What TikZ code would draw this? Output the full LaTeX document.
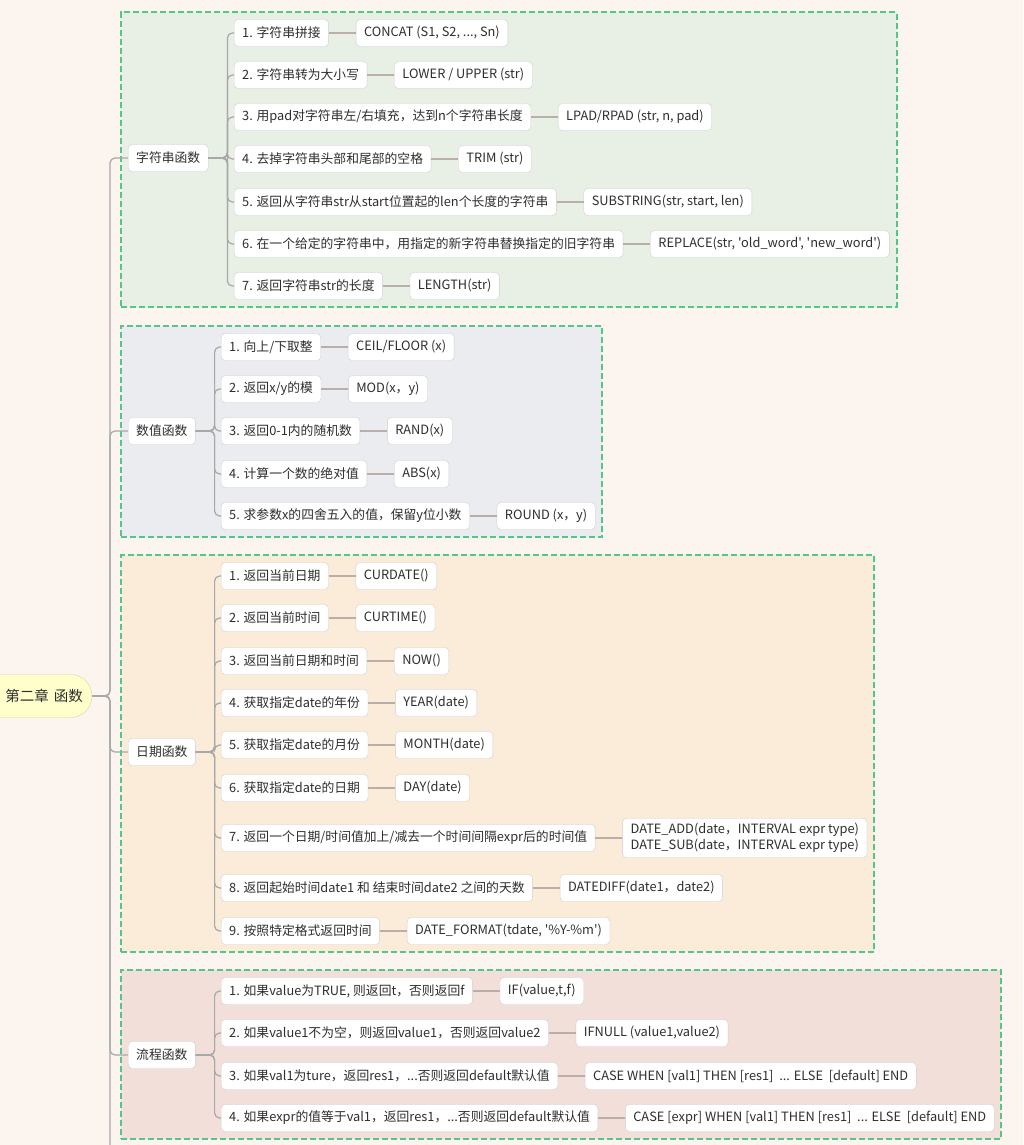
\documentclass[tikz,border=0pt]{standalone}
\usepackage{fontspec}
\setmainfont{Noto Sans CJK SC}[Ligatures=TeXOff]
\usetikzlibrary{positioning,fit,backgrounds}
\definecolor{pagebg}{HTML}{FBF4EF}
\definecolor{txtgray}{HTML}{2E2E2E}
\definecolor{boxline}{HTML}{CFCFCF}
\definecolor{lnkgray}{HTML}{A8A8A8}
\definecolor{lnkbrown}{HTML}{B9AEA8}
\definecolor{dashgreen}{HTML}{52C78A}
\definecolor{rootfill}{HTML}{FFFFCC}
\definecolor{rootline}{HTML}{D8D4A8}
\definecolor{grpstr}{HTML}{E8EFE5}
\definecolor{grpnum}{HTML}{EBECF0}
\definecolor{grpdate}{HTML}{FBEBD9}
\definecolor{grpflow}{HTML}{F3DFDA}

\begin{document}
\begin{tikzpicture}[x=1pt,y=-1pt,
    every node/.style={font=\fontsize{12.8}{16}\selectfont,text=txtgray},
    rootnode/.style={draw=rootline,fill=rootfill,rounded corners=21pt,minimum height=43pt,
      text width=105pt,align=right,inner xsep=9pt,anchor=east,font=\fontsize{14.5}{17}\selectfont},
    cat/.style={draw=boxline,fill=white,rounded corners=4pt,minimum height=27pt,inner xsep=8pt,anchor=west},
    item/.style={draw=boxline,fill=white,rounded corners=4pt,minimum height=27pt,inner xsep=8pt,anchor=west},
    func/.style={draw=boxline,fill=white,rounded corners=4pt,minimum height=27pt,inner xsep=8pt,align=left},
    trunk/.style={draw=lnkgray,line width=1.2pt,rounded corners=5pt},
    twig/.style={draw=lnkgray,line width=1.2pt,rounded corners=5pt},
    leafln/.style={draw=lnkbrown,line width=1.2pt},
    grp/.style={draw=dashgreen,line width=2pt,dash pattern=on 6pt off 3pt,inner sep=7pt}]
  \clip (0,0) rectangle (1023,1145);

  % root
  \node[rootnode] (root) at (92,696) {第二章 函数};
  \coordinate (tail) at (110,1170);

  % string functions
  \node[cat] (str) at (128,158) {字符串函数};
  \node[item] (str1) at (234,33) {1. 字符串拼接};
  \node[item] (str2) at (234,75) {2. 字符串转为大小写};
  \node[item] (str3) at (234,117) {3. 用pad对字符串左/右填充，达到n个字符串长度};
  \node[item] (str4) at (234,159) {4. 去掉字符串头部和尾部的空格};
  \node[item] (str5) at (234,202) {5. 返回从字符串str从start位置起的len个长度的字符串};
  \node[item] (str6) at (234,244) {6. 在一个给定的字符串中，用指定的新字符串替换指定的旧字符串};
  \node[item] (str7) at (234,286) {7. 返回字符串str的长度};
  \node[func,right=27pt of str1] (strf1) {CONCAT (S1, S2, ..., Sn)};
  \node[func,right=27pt of str2] (strf2) {LOWER / UPPER (str)};
  \node[func,right=27pt of str3] (strf3) {LPAD/RPAD (str, n, pad)};
  \node[func,right=27pt of str4] (strf4) {TRIM (str)};
  \node[func,right=27pt of str5] (strf5) {SUBSTRING(str, start, len)};
  \node[func,right=27pt of str6] (strf6) {REPLACE(str, 'old\_word', 'new\_word')};
  \node[func,right=27pt of str7] (strf7) {LENGTH(str)};

  % numeric functions
  \node[cat] (num) at (128,431) {数值函数};
  \node[item] (num1) at (221,347) {1. 向上/下取整};
  \node[item] (num2) at (221,389) {2. 返回x/y的模};
  \node[item] (num3) at (221,431) {3. 返回0-1内的随机数};
  \node[item] (num4) at (221,474) {4. 计算一个数的绝对值};
  \node[item] (num5) at (221,516) {5. 求参数x的四舍五入的值，保留y位小数};
  \node[func,right=27pt of num1] (numf1) {CEIL/FLOOR (x)};
  \node[func,right=27pt of num2] (numf2) {MOD(x，y)};
  \node[func,right=27pt of num3] (numf3) {RAND(x)};
  \node[func,right=27pt of num4] (numf4) {ABS(x)};
  \node[func,right=27pt of num5] (numf5) {ROUND (x，y)};

  % date functions
  \node[cat] (dat) at (128,752) {日期函数};
  \node[item] (dat1) at (221,576) {1. 返回当前日期};
  \node[item] (dat2) at (221,618) {2. 返回当前时间};
  \node[item] (dat3) at (221,661) {3. 返回当前日期和时间};
  \node[item] (dat4) at (221,703) {4. 获取指定date的年份};
  \node[item] (dat5) at (221,745) {5. 获取指定date的月份};
  \node[item] (dat6) at (221,788) {6. 获取指定date的日期};
  \node[item] (dat7) at (221,838) {7. 返回一个日期/时间值加上/减去一个时间间隔expr后的时间值};
  \node[item] (dat8) at (221,888) {8. 返回起始时间date1 和 结束时间date2 之间的天数};
  \node[item] (dat9) at (221,931) {9. 按照特定格式返回时间};
  \node[func,right=27pt of dat1] (datf1) {CURDATE()};
  \node[func,right=27pt of dat2] (datf2) {CURTIME()};
  \node[func,right=27pt of dat3] (datf3) {NOW()};
  \node[func,right=27pt of dat4] (datf4) {YEAR(date)};
  \node[func,right=27pt of dat5] (datf5) {MONTH(date)};
  \node[func,right=27pt of dat6] (datf6) {DAY(date)};
  \node[func,right=27pt of dat7,inner ysep=5pt] (datf7) {DATE\_ADD(date，INTERVAL expr type)\\DATE\_SUB(date，INTERVAL expr type)};
  \node[func,right=27pt of dat8] (datf8) {DATEDIFF(date1，date2)};
  \node[func,right=27pt of dat9] (datf9) {DATE\_FORMAT(tdate, '\%Y-\%m')};

  % flow functions
  \node[cat] (flw) at (128,1055) {流程函数};
  \node[item] (flw1) at (221,991) {1. 如果value为TRUE, 则返回t，否则返回f};
  \node[item] (flw2) at (221,1033) {2. 如果value1不为空，则返回value1，否则返回value2};
  \node[item] (flw3) at (221,1076) {3. 如果val1为ture，返回res1，...否则返回default默认值};
  \node[item] (flw4) at (221,1118) {4. 如果expr的值等于val1，返回res1，...否则返回default默认值};
  \node[func,right=27pt of flw1] (flwf1) {IF(value,t,f)};
  \node[func,right=27pt of flw2] (flwf2) {IFNULL (value1,value2)};
  \node[func,right=27pt of flw3] (flwf3) {CASE WHEN [val1] THEN [res1]\ \ ... ELSE\ \ [default] END};
  \node[func,right=27pt of flw4] (flwf4) {CASE [expr] WHEN [val1] THEN [res1]\ \ ... ELSE\ \ [default] END};

  % dashed groups
  \begin{scope}[on background layer]
    \fill[pagebg] (0,0) rectangle (1023,1145);
    \node[grp,fill=grpstr,fit=(str)(str1)(str7)(strf1)(strf2)(strf3)(strf4)(strf5)(strf6)(strf7)] (gstr) {};
    \node[grp,fill=grpnum,fit=(num)(num1)(num5)(numf1)(numf2)(numf3)(numf4)(numf5)] (gnum) {};
    \node[grp,fill=grpdate,fit=(dat)(dat1)(dat9)(datf1)(datf3)(datf7)(datf8)(datf9)] (gdat) {};
    \node[grp,fill=grpflow,fit=(flw)(flw1)(flw4)(flwf1)(flwf2)(flwf3)(flwf4)] (gflw) {};
  \end{scope}

  % trunk
  \draw[trunk] (root.east) -- ++(18,0) |- (str.west);
  \draw[trunk] (root.east) -- ++(18,0) |- (num.west);
  \draw[trunk] (root.east) -- ++(18,0) |- (dat.west);
  \draw[trunk] (root.east) -- ++(18,0) |- (flw.west);
  \draw[trunk] (root.east) -- ++(18,0) -- (tail);

  % branches
  \draw[twig] (str.east) -- ++(19,0) |- (str1.west); \draw[twig] (str.east) -- ++(19,0) |- (str2.west);
  \draw[twig] (str.east) -- ++(19,0) |- (str3.west); \draw[twig] (str.east) -- ++(19,0) |- (str4.west);
  \draw[twig] (str.east) -- ++(19,0) |- (str5.west); \draw[twig] (str.east) -- ++(19,0) |- (str6.west);
  \draw[twig] (str.east) -- ++(19,0) |- (str7.west);
  \draw[twig] (num.east) -- ++(19,0) |- (num1.west); \draw[twig] (num.east) -- ++(19,0) |- (num2.west);
  \draw[twig] (num.east) -- ++(19,0) |- (num3.west); \draw[twig] (num.east) -- ++(19,0) |- (num4.west);
  \draw[twig] (num.east) -- ++(19,0) |- (num5.west);
  \draw[twig] (dat.east) -- ++(19,0) |- (dat1.west); \draw[twig] (dat.east) -- ++(19,0) |- (dat2.west);
  \draw[twig] (dat.east) -- ++(19,0) |- (dat3.west); \draw[twig] (dat.east) -- ++(19,0) |- (dat4.west);
  \draw[twig] (dat.east) -- ++(19,0) |- (dat5.west); \draw[twig] (dat.east) -- ++(19,0) |- (dat6.west);
  \draw[twig] (dat.east) -- ++(19,0) |- (dat7.west); \draw[twig] (dat.east) -- ++(19,0) |- (dat8.west);
  \draw[twig] (dat.east) -- ++(19,0) |- (dat9.west);
  \draw[twig] (flw.east) -- ++(19,0) |- (flw1.west); \draw[twig] (flw.east) -- ++(19,0) |- (flw2.west);
  \draw[twig] (flw.east) -- ++(19,0) |- (flw3.west); \draw[twig] (flw.east) -- ++(19,0) |- (flw4.west);

  % leaves
  \draw[leafln] (str1) -- (strf1); \draw[leafln] (str2) -- (strf2); \draw[leafln] (str3) -- (strf3);
  \draw[leafln] (str4) -- (strf4); \draw[leafln] (str5) -- (strf5); \draw[leafln] (str6) -- (strf6);
  \draw[leafln] (str7) -- (strf7);
  \draw[leafln] (num1) -- (numf1); \draw[leafln] (num2) -- (numf2); \draw[leafln] (num3) -- (numf3);
  \draw[leafln] (num4) -- (numf4); \draw[leafln] (num5) -- (numf5);
  \draw[leafln] (dat1) -- (datf1); \draw[leafln] (dat2) -- (datf2); \draw[leafln] (dat3) -- (datf3);
  \draw[leafln] (dat4) -- (datf4); \draw[leafln] (dat5) -- (datf5); \draw[leafln] (dat6) -- (datf6);
  \draw[leafln] (dat7) -- (datf7); \draw[leafln] (dat8) -- (datf8); \draw[leafln] (dat9) -- (datf9);
  \draw[leafln] (flw1) -- (flwf1); \draw[leafln] (flw2) -- (flwf2); \draw[leafln] (flw3) -- (flwf3);
  \draw[leafln] (flw4) -- (flwf4);
\end{tikzpicture}
\end{document}
